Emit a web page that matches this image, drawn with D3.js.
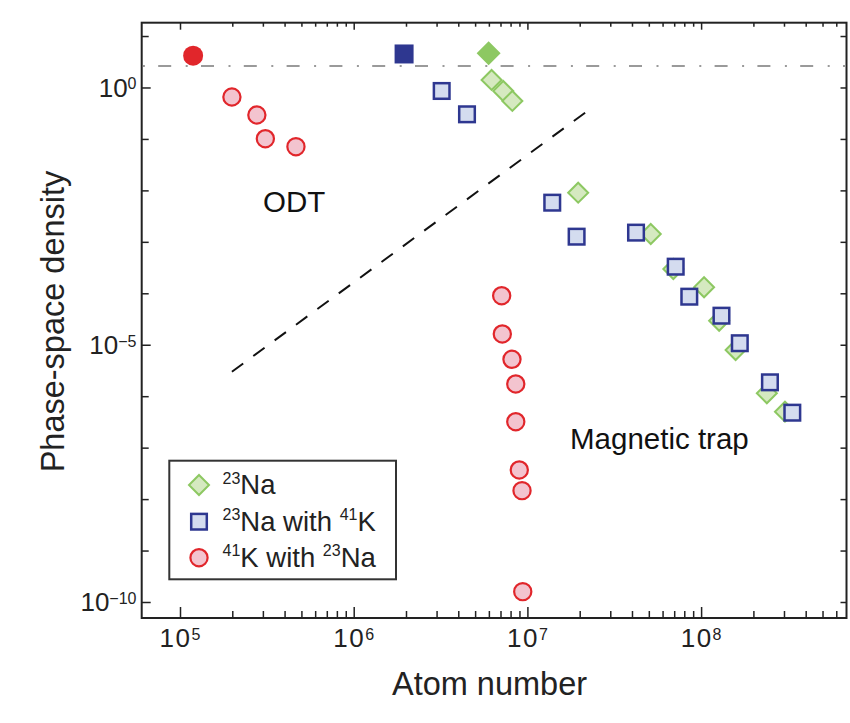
<!DOCTYPE html>
<html><head><meta charset="utf-8">
<script src="https://cdn.jsdelivr.net/npm/d3@7"></script>
<style>
body{margin:0;background:#fff}
svg{display:block;font-family:"Liberation Sans",Arial,Helvetica,sans-serif}
</style>
</head><body><svg id="chart" width="850" height="723"></svg>
<script>
// ---- data ----
// 23Na alone (green diamonds); first point = BEC (filled)
const naN   = [5.98e6, 6.22e6, 7.26e6, 8.19e6, 1.96e7, 5.13e7, 6.92e7, 1.04e8, 1.27e8, 1.58e8, 2.39e8, 3.04e8];
const naPSD = [4.62, 1.40, 0.855, 0.547, 9.02e-3, 1.42e-3, 2.97e-4, 1.31e-4, 2.93e-5, 7.91e-6, 1.14e-6, 5.00e-7];
const naFilled = [true, false, false, false, false, false, false, false, false, false, false, false];
// 23Na with 41K (blue squares)
const naKN   = [1.95e6, 3.21e6, 4.49e6, 1.39e7, 1.92e7, 4.22e7, 7.14e7, 8.55e7, 1.31e8, 1.67e8, 2.49e8, 3.35e8];
const naKPSD = [4.48, 0.855, 0.301, 5.77e-3, 1.26e-3, 1.51e-3, 3.29e-4, 8.59e-5, 3.67e-5, 1.07e-5, 1.86e-6, 4.78e-7];
const naKFilled = [true, false, false, false, false, false, false, false, false, false, false, false];
// 41K with 23Na (red circles)
const kN   = [1.19e5, 1.99e5, 2.77e5, 3.10e5, 4.65e5, 7.11e6, 7.17e6, 8.15e6, 8.57e6, 8.57e6, 8.98e6, 9.31e6, 9.40e6];
const kPSD = [4.15, 0.653, 0.292, 0.101, 0.0707, 8.98e-5, 1.62e-5, 5.21e-6, 1.73e-6, 3.19e-7, 3.68e-8, 1.46e-8, 1.59e-10];
const kFilled = [true, false, false, false, false, false, false, false, false, false, false, false, false];
// guide line (dashed) and BEC threshold (dash-dot)
const guideN = [1.99e5, 2.15e7];
const guidePSD = [2.99e-6, 0.324];
const becThreshold = 2.612;
// ticks
const xMajor = [1e5, 1e6, 1e7, 1e8];
const xMajorExp = ["5", "6", "7", "8"];
const xMinor = [2e5,3e5,4e5,5e5,6e5,7e5,8e5,9e5, 2e6,3e6,4e6,5e6,6e6,7e6,8e6,9e6, 2e7,3e7,4e7,5e7,6e7,7e7,8e7,9e7, 2e8,3e8,4e8,5e8,6e8];
const yDecades = [1e1,1e0,1e-1,1e-2,1e-3,1e-4,1e-5,1e-6,1e-7,1e-8,1e-9,1e-10];
const yLabeled = [1e0, 1e-5, 1e-10];
const yLabelExp = ["0", "\u22125", "\u221210"];
const legendItems = [
  {kind: "diamond", parts: [["23", true], ["Na", false]]},
  {kind: "square",  parts: [["23", true], ["Na with ", false], ["41", true], ["K", false]]},
  {kind: "circle",  parts: [["41", true], ["K with ", false], ["23", true], ["Na", false]]}
];

// ---- styles ----
const C = {
  redStroke: "#e1262b", redFill: "#f3c4cf", redSolid: "#e1262b",
  blueStroke: "#2e3790", blueFill: "#d4dcef", blueSolid: "#2e3790",
  greenStroke: "#8dc862", greenFill: "#d5e9c0", greenSolid: "#8dc862",
  axis: "#222"
};

const svg = d3.select("#chart");
svg.append("rect").attr("width", 850).attr("height", 723).attr("fill", "#fff");

const L = 141.7, R = 846.5, T = 22.7, B = 618;
const x = d3.scaleLog().domain([Math.pow(10, 4.7795), Math.pow(10, 8.837)]).range([L, R]);
const y = d3.scaleLog().domain([Math.pow(10, -10.311), Math.pow(10, 1.259)]).range([B, T]);

// ---- ticks via d3 axes (inward) ----
function ticks(axisFn, scale, values, size, tr) {
  const g = svg.append("g").attr("transform", tr)
    .call(axisFn(scale).tickValues(values).tickSize(size).tickFormat(""));
  g.select(".domain").remove();
  g.selectAll(".tick line").attr("stroke", C.axis).attr("stroke-width", 1.5);
}
ticks(d3.axisBottom, x, xMajor, -11, `translate(0,${B})`);
ticks(d3.axisBottom, x, xMinor, -7, `translate(0,${B})`);
ticks(d3.axisTop, x, xMajor, -7, `translate(0,${T})`);
ticks(d3.axisTop, x, xMinor, -4, `translate(0,${T})`);
ticks(d3.axisLeft, y, yLabeled, -9, `translate(${L},0)`);
ticks(d3.axisLeft, y, yDecades.filter(d => !yLabeled.includes(d)), -7, `translate(${L},0)`);
ticks(d3.axisRight, y, yDecades, -6, `translate(${R},0)`);

// frame
svg.append("rect").attr("x", L).attr("y", T).attr("width", R - L).attr("height", B - T)
  .attr("fill", "none").attr("stroke", C.axis).attr("stroke-width", 2);

// tick labels
xMajor.forEach((v, i) => {
  const t = svg.append("text").attr("x", x(v)).attr("y", 646.7).attr("text-anchor", "middle")
    .attr("fill", "#222");
  t.append("tspan").attr("font-size", 26).attr("letter-spacing", 1.5).text("10");
  t.append("tspan").attr("font-size", 16).attr("dy", -7).text(xMajorExp[i]);
});
yLabeled.forEach((v, i) => {
  const t = svg.append("text").attr("x", 136.5).attr("y", y(v) + 9.5).attr("text-anchor", "end")
    .attr("fill", "#222");
  t.append("tspan").attr("font-size", 26).text("10");
  t.append("tspan").attr("font-size", 16).attr("dy", -7.5).text(yLabelExp[i]);
});

// axis titles
svg.append("text").attr("x", 489.5).attr("y", 695).attr("text-anchor", "middle")
  .attr("font-size", 32.5).attr("fill", "#222").text("Atom number");
svg.append("text").attr("transform", "translate(64,321.5) rotate(-90)").attr("text-anchor", "middle")
  .attr("font-size", 32.5).attr("fill", "#222").text("Phase-space density");

// BEC threshold dash-dot line
svg.append("line").attr("x1", L + 1).attr("x2", R - 1).attr("y1", y(becThreshold)).attr("y2", y(becThreshold))
  .attr("stroke", "#9a9a9a").attr("stroke-width", 2)
  .attr("stroke-dasharray", "13,14.5,2,13.3").attr("stroke-dashoffset", 27.3);

// guide dashed line
svg.append("path")
  .attr("d", d3.line().x(d => x(d[0])).y(d => y(d[1]))(guideN.map((n, i) => [n, guidePSD[i]])))
  .attr("fill", "none").attr("stroke", "#111").attr("stroke-width", 2)
  .attr("stroke-dasharray", "14,12.5");

// region labels
svg.append("text").attr("x", 263).attr("y", 211.5).attr("font-size", 29.5).attr("fill", "#111").text("ODT");
svg.append("text").attr("x", 570).attr("y", 448.5).attr("font-size", 29.5).attr("fill", "#111").text("Magnetic trap");

// ---- markers ----
function diamondPath(h) { return `M0,${-h}L${h},0L0,${h}L${-h},0Z`; }
function drawMarker(g, kind, filled) {
  if (kind === "diamond") {
    if (filled) g.append("path").attr("d", diamondPath(12)).attr("fill", C.greenSolid);
    else g.append("path").attr("d", diamondPath(10)).attr("fill", C.greenFill).attr("stroke", C.greenStroke).attr("stroke-width", 2);
  } else if (kind === "square") {
    if (filled) g.append("rect").attr("x", -9.5).attr("y", -9.5).attr("width", 19).attr("height", 19).attr("fill", C.blueSolid);
    else g.append("rect").attr("x", -7.8).attr("y", -7.8).attr("width", 15.6).attr("height", 15.6)
      .attr("fill", C.blueFill).attr("stroke", C.blueStroke).attr("stroke-width", 2.5);
  } else {
    if (filled) g.append("circle").attr("r", 10).attr("fill", C.redSolid);
    else g.append("circle").attr("r", 8.6).attr("fill", C.redFill).attr("stroke", C.redStroke).attr("stroke-width", 2.2);
  }
}
function series(N, P, F, kind) {
  const g = svg.append("g");
  N.forEach((n, i) => {
    const m = g.append("g").attr("transform", `translate(${x(n)},${y(P[i])})`);
    drawMarker(m, kind, F[i]);
  });
}
series(naN, naPSD, naFilled, "diamond");
series(naKN, naKPSD, naKFilled, "square");
series(kN, kPSD, kFilled, "circle");

// ---- legend ----
svg.append("rect").attr("x", 169.3).attr("y", 460.7).attr("width", 226.7).attr("height", 118.6)
  .attr("fill", "#fff").attr("stroke", "#333").attr("stroke-width", 2);
const rowY = [485, 521.7, 557.7];
legendItems.forEach((it, i) => {
  const m = svg.append("g").attr("transform", `translate(199,${rowY[i]})`);
  drawMarker(m, it.kind, false);
  const t = svg.append("text").attr("x", 222.5).attr("y", rowY[i] + 9).attr("fill", "#222");
  let raised = false;
  it.parts.forEach(([s, sup]) => {
    const ts = t.append("tspan").text(s).attr("font-size", sup ? 16 : 27.5);
    if (sup && !raised) { ts.attr("dy", -10.5); raised = true; }
    else if (!sup && raised) { ts.attr("dy", 10.5); raised = false; }
  });
});
</script>
</body></html>
